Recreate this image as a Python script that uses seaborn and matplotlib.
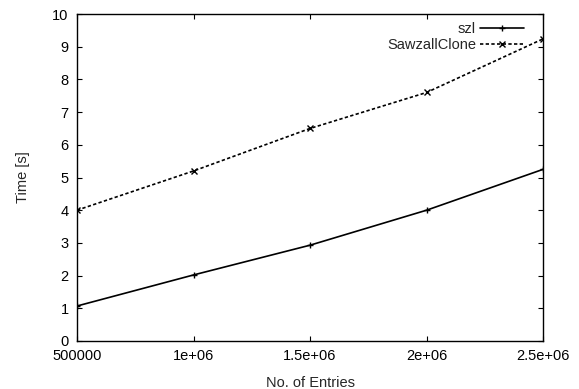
import pandas as pd
import matplotlib.pyplot as plt
import seaborn as sns

entries = [500000, 1000000, 1500000, 2000000, 2500000]
szl = [1.07, 2.02, 2.93, 4.0, 5.25]
clone = [4.0, 5.2, 6.5, 7.6, 9.24]
xticks = [500000, 1000000, 1500000, 2000000, 2500000]
xlabels = ['500000', '1e+06', '1.5e+06', '2e+06', '2.5e+06']

df = pd.DataFrame({'entries': entries * 2,
                   'time': szl + clone,
                   'series': ['szl'] * 5 + ['SawzallClone'] * 5})

sns.set_style('ticks')
plt.rcParams['font.family'] = ['Liberation Sans', 'DejaVu Sans']
fs = 10.5

fig, ax = plt.subplots(figsize=(5.79, 3.89), dpi=100)
fig.subplots_adjust(left=0.133, right=0.938, top=0.964, bottom=0.1234)

sns.lineplot(data=df, x='entries', y='time', hue='series', style='series',
             palette=['black', 'black'], dashes=[(None, None), (2, 1.4)],
             markers=['+', 'x'], markersize=4, markeredgewidth=1.0,
             markeredgecolor='black', linewidth=1.2, ax=ax)

ax.set_xlim(500000, 2500000)
ax.set_ylim(0, 10)
ax.set_xticks(xticks)
ax.set_xticklabels(xlabels)
ax.set_yticks(range(0, 11))
ax.tick_params(direction='in', top=True, right=True, length=3.6, width=0.8,
               labelsize=fs, colors='black')
ax.tick_params(axis='y', pad=6)
ax.tick_params(axis='x', pad=6)
for s in ax.spines.values():
    s.set_linewidth(1.0)
    s.set_color('black')
ax.set_xlabel('No. of Entries', fontsize=fs, labelpad=9)
ax.set_ylabel('Time [s]', fontsize=fs, labelpad=16)

leg = ax.legend(loc='upper right', bbox_to_anchor=(0.959, 0.975),
                frameon=False, markerfirst=False, handlelength=3.0,
                borderaxespad=0, borderpad=0, labelspacing=0.12,
                fontsize=fs, handletextpad=0.3)

fig.savefig('out.png', dpi=100)
